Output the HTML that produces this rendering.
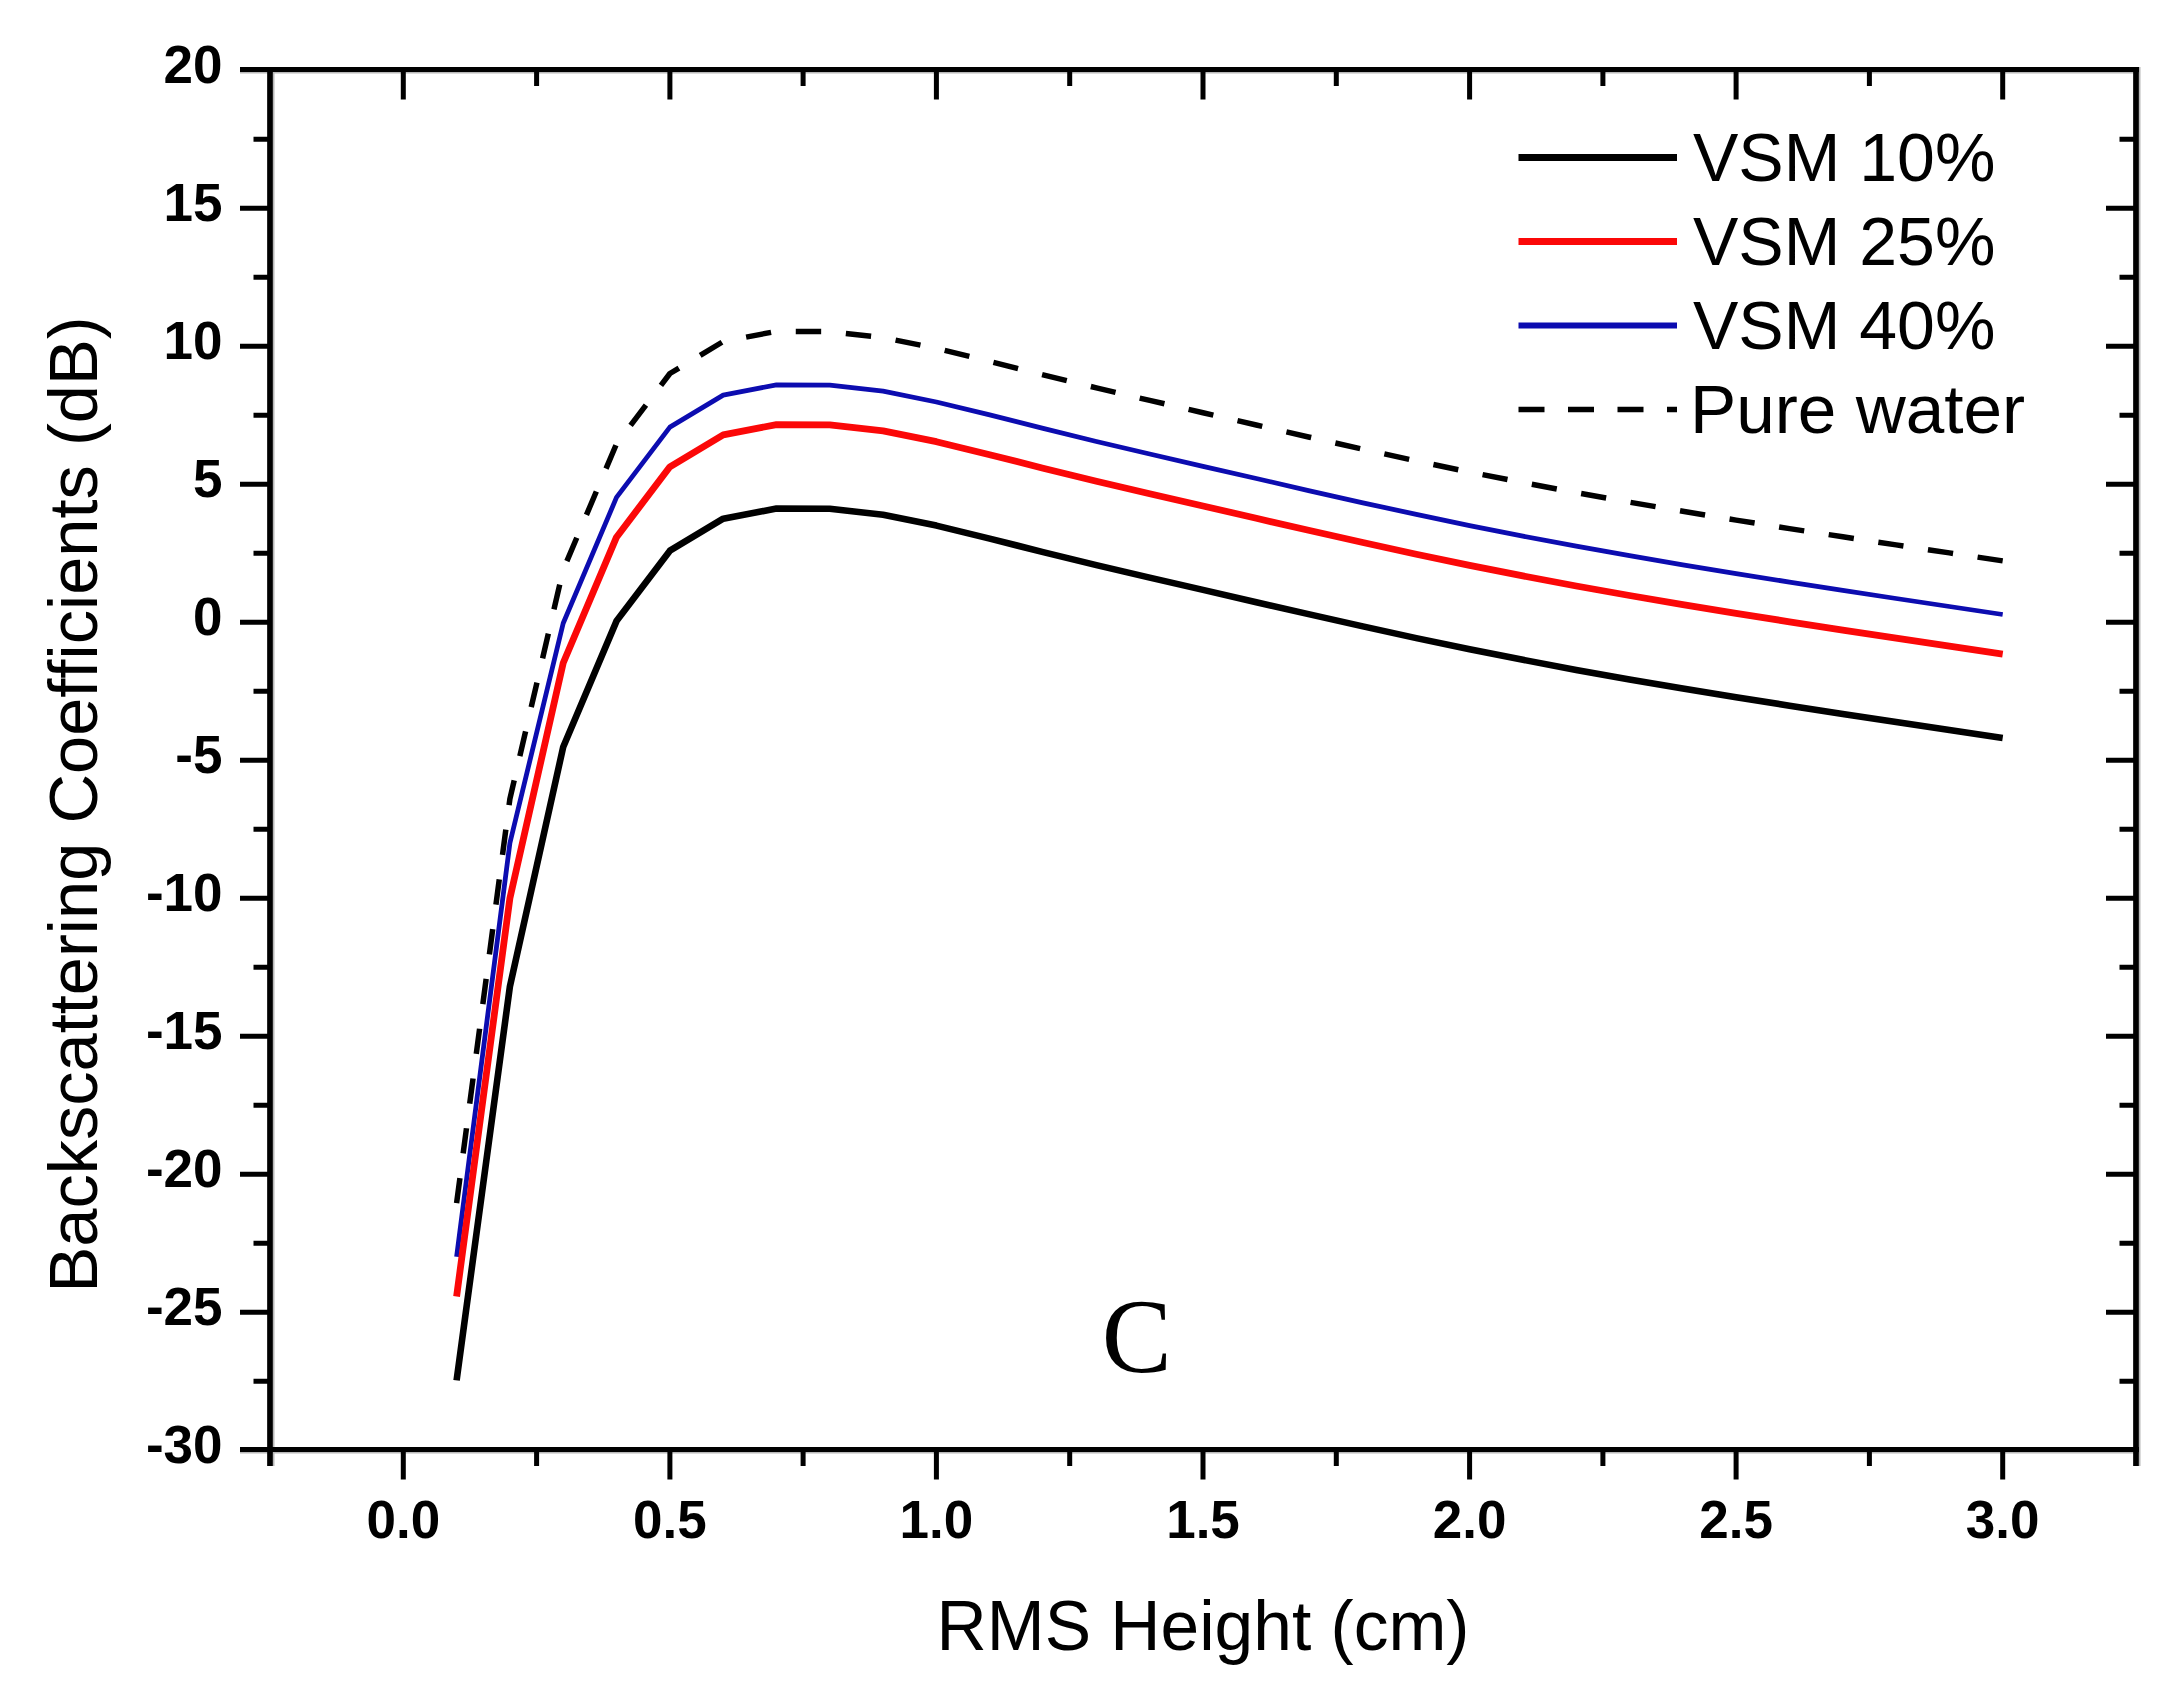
<!DOCTYPE html>
<html lang="en">
<head>
<meta charset="utf-8">
<title>Backscattering Coefficients vs RMS Height</title>
<style>
html,body{margin:0;padding:0;background:#fff;}
body{width:2182px;height:1694px;overflow:hidden;}
svg{display:block;}
text{font-kerning:none;}
</style>
</head>
<body>
<svg width="2182" height="1694" viewBox="0 0 2182 1694">
<rect width="2182" height="1694" fill="#fff"/>
<polyline points="456.6,1203.2 509.9,798.8 563.2,569.8 616.5,443.9 669.9,373.5 723.2,341.5 776.5,331.3 829.8,331.6 883.1,337.6 936.4,348.4 989.7,361.4 1043.1,374.9 1096.4,387.9 1149.7,400.4 1203.0,412.7 1256.3,425.0 1309.6,437.2 1362.9,449.2 1416.3,460.9 1469.6,472.1 1522.9,482.6 1576.2,492.7 1629.5,502.2 1682.8,511.3 1736.1,520.1 1789.5,528.6 1842.8,536.8 1896.1,544.9 1949.4,552.9 2002.7,560.9" fill="none" stroke="#000" stroke-width="5.5" stroke-dasharray="25.4 24.79" stroke-linejoin="round"/>
<polyline points="456.6,1256.7 509.9,843.0 563.2,623.3 616.5,497.4 669.9,427.1 723.2,395.1 776.5,384.8 829.8,385.1 883.1,391.2 936.4,402.0 989.7,414.9 1043.1,428.4 1096.4,441.5 1149.7,454.0 1203.0,466.3 1256.3,478.5 1309.6,490.8 1362.9,502.8 1416.3,514.4 1469.6,525.6 1522.9,536.2 1576.2,546.2 1629.5,555.7 1682.8,564.9 1736.1,573.6 1789.5,582.1 1842.8,590.4 1896.1,598.5 1949.4,606.5 2002.7,614.5" fill="none" stroke="#0c0cb0" stroke-width="4.8" stroke-linejoin="round"/>
<polyline points="456.6,1296.5 509.9,898.2 563.2,663.0 616.5,537.2 669.9,466.8 723.2,434.8 776.5,424.6 829.8,424.9 883.1,430.9 936.4,441.7 989.7,454.7 1043.1,468.2 1096.4,481.2 1149.7,493.7 1203.0,506.0 1256.3,518.3 1309.6,530.5 1362.9,542.5 1416.3,554.2 1469.6,565.3 1522.9,575.9 1576.2,586.0 1629.5,595.5 1682.8,604.6 1736.1,613.4 1789.5,621.8 1842.8,630.1 1896.1,638.2 1949.4,646.2 2002.7,654.2" fill="none" stroke="#fb0808" stroke-width="6.8" stroke-linejoin="round"/>
<polyline points="456.6,1380.4 509.9,986.5 563.2,747.0 616.5,621.1 669.9,550.7 723.2,518.7 776.5,508.5 829.8,508.8 883.1,514.8 936.4,525.6 989.7,538.6 1043.1,552.1 1096.4,565.1 1149.7,577.6 1203.0,589.9 1256.3,602.2 1309.6,614.4 1362.9,626.4 1416.3,638.1 1469.6,649.2 1522.9,659.8 1576.2,669.9 1629.5,679.4 1682.8,688.5 1736.1,697.3 1789.5,705.7 1842.8,714.0 1896.1,722.1 1949.4,730.1 2002.7,738.1" fill="none" stroke="#000" stroke-width="6.6" stroke-linejoin="round"/>
<g stroke="#000" fill="none">
<path stroke="#b8b8b8" stroke-width="1.6" d="M240.0,72.7 H2139.0 M240.0,1452.7 H2139.0 M273.7,69.5 V1466.0 M2139.7,67.0 V1466.0"/>
<path stroke-width="5" d="M240.0,69.5 H2139.0 M240.0,1449.5 H2139.0"/>
<path stroke-width="5.7" d="M270.0,67.0 V1466.0 M2136.0,67.0 V1466.0"/>
<path stroke-width="5" d="M253.5,1381.2H270.0M2119.5,1381.2H2136.0M240.0,1312.2H270.0M2106.0,1312.2H2136.0M253.5,1243.2H270.0M2119.5,1243.2H2136.0M240.0,1174.2H270.0M2106.0,1174.2H2136.0M253.5,1105.2H270.0M2119.5,1105.2H2136.0M240.0,1036.2H270.0M2106.0,1036.2H2136.0M253.5,967.2H270.0M2119.5,967.2H2136.0M240.0,898.2H270.0M2106.0,898.2H2136.0M253.5,829.2H270.0M2119.5,829.2H2136.0M240.0,760.2H270.0M2106.0,760.2H2136.0M253.5,691.2H270.0M2119.5,691.2H2136.0M240.0,622.2H270.0M2106.0,622.2H2136.0M253.5,553.2H270.0M2119.5,553.2H2136.0M240.0,484.2H270.0M2106.0,484.2H2136.0M253.5,415.2H270.0M2119.5,415.2H2136.0M240.0,346.2H270.0M2106.0,346.2H2136.0M253.5,277.2H270.0M2119.5,277.2H2136.0M240.0,208.2H270.0M2106.0,208.2H2136.0M253.5,139.2H270.0M2119.5,139.2H2136.0M403.3,1449.5V1479.5M403.3,69.5V99.5M536.6,1449.5V1466.0M536.6,69.5V86.0M669.9,1449.5V1479.5M669.9,69.5V99.5M803.1,1449.5V1466.0M803.1,69.5V86.0M936.4,1449.5V1479.5M936.4,69.5V99.5M1069.7,1449.5V1466.0M1069.7,69.5V86.0M1203.0,1449.5V1479.5M1203.0,69.5V99.5M1336.3,1449.5V1466.0M1336.3,69.5V86.0M1469.6,1449.5V1479.5M1469.6,69.5V99.5M1602.9,1449.5V1466.0M1602.9,69.5V86.0M1736.1,1449.5V1479.5M1736.1,69.5V99.5M1869.4,1449.5V1466.0M1869.4,69.5V86.0M2002.7,1449.5V1479.5M2002.7,69.5V99.5"/>
</g>
<g font-family="'Liberation Sans', Arial, Helvetica, sans-serif" font-weight="bold" font-size="53" fill="#000">
<g text-anchor="end">
<text x="222.5" y="83.0">20</text>
<text x="222.5" y="221.0">15</text>
<text x="222.5" y="359.0">10</text>
<text x="222.5" y="497.0">5</text>
<text x="222.5" y="635.0">0</text>
<text x="222.5" y="773.0">-5</text>
<text x="222.5" y="911.0">-10</text>
<text x="222.5" y="1049.0">-15</text>
<text x="222.5" y="1187.0">-20</text>
<text x="222.5" y="1325.0">-25</text>
<text x="222.5" y="1463.0">-30</text>
</g><g text-anchor="middle">
<text x="403.3" y="1538">0.0</text>
<text x="669.9" y="1538">0.5</text>
<text x="936.4" y="1538">1.0</text>
<text x="1203.0" y="1538">1.5</text>
<text x="1469.6" y="1538">2.0</text>
<text x="1736.1" y="1538">2.5</text>
<text x="2002.7" y="1538">3.0</text>
</g></g>
<g font-family="'Liberation Sans', Arial, Helvetica, sans-serif" font-size="68" fill="#000">
<text x="1203" y="1650" font-size="69.5" text-anchor="middle">RMS Height (cm)</text>
<text transform="translate(97,804.5) rotate(-90)" font-size="68.6" text-anchor="middle">Backscattering Coefficients (dB)</text>
<text x="1693" y="181">VSM 10%</text>
<text x="1693" y="265">VSM 25%</text>
<text x="1693" y="349">VSM 40%</text>
<text x="1690" y="433" font-size="69.3">Pure water</text>
</g>
<path d="M1518.5,157.5H1677" stroke="#000" stroke-width="7"/>
<path d="M1518.5,241.5H1677" stroke="#fb0808" stroke-width="7"/>
<path d="M1518.5,325.5H1677" stroke="#0c0cb0" stroke-width="6"/>
<path d="M1518.5,409.5H1677" stroke="#000" stroke-width="5.5" stroke-dasharray="26 23.5"/>
<text x="1101.8" y="1372" font-family="'Liberation Serif', 'Times New Roman', Times, serif" font-size="105" fill="#000">C</text>
</svg>
</body>
</html>
